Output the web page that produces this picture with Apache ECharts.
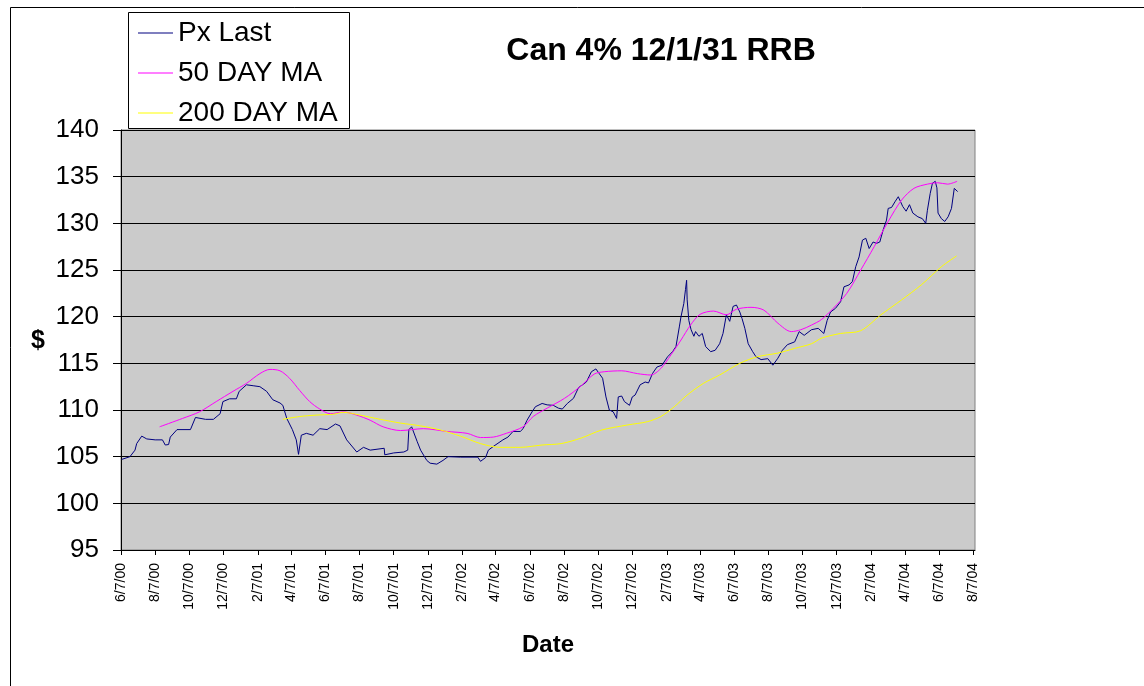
<!DOCTYPE html>
<html>
<head>
<meta charset="utf-8">
<script src="https://cdn.jsdelivr.net/npm/echarts@6/dist/echarts.min.js"></script>
<style>
  html, body { margin: 0; padding: 0; background: #fff; }
  #main { width: 1144px; height: 686px; }
</style>
</head>
<body>
<div id="main"></div>
<script>
// values
var pxDates = ['2000-06-08','2000-06-23','2000-07-02','2000-07-05','2000-07-14','2000-07-23','2000-08-07','2000-08-20','2000-08-25','2000-08-31',
  '2000-09-03','2000-09-15','2000-10-09','2000-10-18','2000-11-05','2000-11-19','2000-12-01','2000-12-06','2000-12-18','2000-12-30',
  '2001-01-04','2001-01-17','2001-01-29','2001-02-10','2001-02-22','2001-03-05','2001-03-18','2001-03-23','2001-03-30','2001-04-09',
  '2001-04-16','2001-04-20','2001-04-25','2001-05-04','2001-05-16','2001-05-28','2001-06-10','2001-06-25','2001-07-03','2001-07-15',
  '2001-08-02','2001-08-14','2001-08-26','2001-09-20','2001-09-21','2001-10-07','2001-10-25','2001-11-01','2001-11-03','2001-11-08',
  '2001-11-18','2001-11-24','2001-12-05','2001-12-11','2001-12-23','2002-01-03','2002-01-12','2002-02-03','2002-03-06','2002-03-11',
  '2002-03-20','2002-03-25','2002-04-03','2002-04-20','2002-04-29','2002-05-08','2002-05-21','2002-05-26','2002-06-02','2002-06-11',
  '2002-06-17','2002-06-29','2002-07-08','2002-07-19','2002-07-28','2002-08-04','2002-08-13','2002-08-24','2002-09-02','2002-09-16',
  '2002-09-25','2002-10-03','2002-10-09','2002-10-15','2002-10-21','2002-10-27','2002-11-03','2002-11-09','2002-11-12','2002-11-18',
  '2002-11-23','2002-12-02','2002-12-07','2002-12-12','2002-12-21','2002-12-30','2003-01-05','2003-01-12','2003-01-20','2003-01-29',
  '2003-02-08','2003-02-17','2003-02-23','2003-03-01','2003-03-04','2003-03-09','2003-03-12','2003-03-14','2003-03-15','2003-03-18',
  '2003-03-22','2003-03-27','2003-03-30','2003-04-05','2003-04-11','2003-04-17','2003-04-26','2003-05-04','2003-05-12','2003-05-18',
  '2003-05-24','2003-05-30','2003-06-05','2003-06-11','2003-06-17','2003-06-21','2003-06-26','2003-07-02','2003-07-10','2003-07-16',
  '2003-07-25','2003-08-06','2003-08-15','2003-08-24','2003-09-01','2003-09-10','2003-09-23','2003-10-01','2003-10-10','2003-10-23',
  '2003-11-04','2003-11-14','2003-11-20','2003-11-26','2003-12-05','2003-12-14','2003-12-20','2003-12-29','2004-01-04','2004-01-10',
  '2004-01-16','2004-01-22','2004-01-28','2004-02-03','2004-02-10','2004-02-16','2004-02-22','2004-02-28','2004-03-05','2004-03-08',
  '2004-03-14','2004-03-20','2004-03-26','2004-03-29','2004-04-03','2004-04-09','2004-04-15','2004-04-21','2004-04-30','2004-05-08',
  '2004-05-14','2004-05-17','2004-05-22','2004-05-26','2004-05-31','2004-06-03','2004-06-05','2004-06-11','2004-06-17','2004-06-23',
  '2004-06-29','2004-07-04','2004-07-07','2004-07-10'];
var pxValues = [104.7,105.0,105.7,106.4,107.2,106.9,106.8,106.8,106.25,106.3,
  107.1,107.9,107.9,109.2,109.0,109.0,109.6,110.9,111.2,111.2,
  112.0,112.7,112.6,112.5,112.0,111.1,110.75,110.5,109.1,107.9,
  106.8,105.25,107.3,107.5,107.3,108.0,107.9,108.5,108.3,106.8,
  105.5,106.0,105.7,105.9,105.2,105.4,105.5,105.7,107.9,108.2,
  106.6,105.7,104.6,104.3,104.2,104.6,105.0,104.95,104.95,104.5,
  104.9,105.7,106.1,106.8,107.1,107.7,107.7,108.0,108.9,109.8,
  110.35,110.7,110.55,110.5,110.2,110.1,110.7,111.25,112.4,113.0,
  114.1,114.4,113.9,113.4,111.4,110.0,109.8,109.1,111.4,111.5,
  110.9,110.5,111.4,111.6,112.7,113.0,112.9,113.9,114.6,114.8,
  115.7,116.25,116.8,118.9,120.0,121.4,122.9,123.9,121.8,119.6,
  118.6,117.9,118.4,117.9,118.2,116.8,116.25,116.4,117.1,118.2,
  120.2,119.5,121.1,121.25,120.5,119.8,118.75,117.1,116.25,115.7,
  115.4,115.5,114.8,115.55,116.4,117.0,117.3,118.4,118.0,118.6,
  118.75,118.2,119.6,120.5,120.9,121.6,123.2,123.4,123.75,125.35,
  126.4,128.2,128.4,127.3,128.0,127.85,128.0,129.3,130.35,131.6,
  131.7,132.3,132.85,133.0,131.8,131.3,132.0,131.1,130.7,130.5,
  130.0,131.4,133.2,134.3,134.5,133.8,131.1,130.5,130.2,130.7,
  131.6,133.75,133.9,133.4];

var ma50Dates = ['2000-08-15','2000-09-25','2000-10-25','2000-11-24','2000-12-24','2001-01-17','2001-02-10','2001-02-28','2001-03-18','2001-04-04',
  '2001-04-22','2001-05-10','2001-05-28','2001-06-16','2001-07-09','2001-08-02','2001-08-26','2001-09-18','2001-10-19','2001-11-29',
  '2002-01-10','2002-02-15','2002-03-11','2002-04-03','2002-04-26','2002-05-26','2002-06-13','2002-07-08','2002-08-08','2002-09-07',
  '2002-09-30','2002-10-18','2002-11-18','2002-12-16','2003-01-09','2003-01-27','2003-02-14','2003-03-04','2003-03-21','2003-04-07',
  '2003-05-01','2003-05-24','2003-06-11','2003-07-07','2003-07-30','2003-08-24','2003-09-17','2003-10-04','2003-10-23','2003-11-10',
  '2003-12-01','2003-12-25','2004-01-19','2004-02-12','2004-03-08','2004-04-01','2004-04-23','2004-05-17','2004-06-04','2004-06-22',
  '2004-07-09'];
var ma50Values = [108.2,109.1,109.8,110.9,112.0,112.85,113.9,114.35,114.2,113.4,
  112.1,110.9,110.1,109.6,109.8,109.45,108.9,108.2,107.8,108.0,
  107.7,107.5,107.05,107.1,107.5,108.2,109.3,110.2,111.25,112.6,
  113.85,114.1,114.2,113.9,113.75,114.45,115.9,117.5,119.1,120.25,
  120.6,120.2,120.8,121.0,120.7,119.3,118.4,118.6,119.1,119.7,
  120.9,122.5,125.0,127.5,130.2,132.5,133.75,134.2,134.35,134.2,
  134.5];

var ma200Dates = ['2001-03-23','2001-04-22','2001-05-21','2001-06-22','2001-07-09','2001-08-08','2001-09-13','2001-10-19','2001-11-24','2001-12-30',
  '2002-02-03','2002-03-11','2002-04-15','2002-05-21','2002-06-29','2002-08-02','2002-09-07','2002-10-13','2002-11-29','2003-01-03',
  '2003-01-27','2003-02-20','2003-03-15','2003-04-13','2003-05-12','2003-06-17','2003-07-18','2003-08-24','2003-09-23','2003-10-23',
  '2003-11-10','2003-12-14','2004-01-19','2004-02-24','2004-04-01','2004-05-06','2004-06-11','2004-07-08'];
var ma200Values = [109.0,109.3,109.45,109.55,109.75,109.45,109.0,108.6,108.3,107.85,
  107.2,106.4,106.0,106.0,106.25,106.4,107.0,107.85,108.4,108.75,
  109.3,110.35,111.6,112.85,113.75,115.0,115.7,116.1,116.6,117.1,
  117.7,118.2,118.5,120.2,121.8,123.4,125.35,126.5];

var tickLabels = ['6/7/00','8/7/00','10/7/00','12/7/00','2/7/01','4/7/01','6/7/01','8/7/01','10/7/01','12/7/01',
  '2/7/02','4/7/02','6/7/02','8/7/02','10/7/02','12/7/02','2/7/03','4/7/03','6/7/03','8/7/03',
  '10/7/03','12/7/03','2/7/04','4/7/04','6/7/04','8/7/04'];

var FONT = 'Liberation Sans, Arial, sans-serif';

function isoTs(s) {
  var p = s.split('-');
  return new Date(+p[0], +p[1] - 1, +p[2]).getTime();
}
function mdyTs(s) {
  var p = s.split('/');
  return new Date(2000 + +p[2], +p[0] - 1, +p[1]).getTime();
}
function pairs(dates, values) {
  return dates.map(function (d, i) { return [isoTs(d), values[i]]; });
}

var tickValues = tickLabels.map(mdyTs);

var chart = echarts.init(document.getElementById('main'), null, { renderer: 'canvas' });

chart.setOption({
  animation: false,
  backgroundColor: '#fff',
  textStyle: { fontFamily: FONT },
  grid: {
    left: 121, right: 169, top: 130, bottom: 136,
    show: true, backgroundColor: '#cbcbcb', borderColor: '#808080', borderWidth: 1
  },
  legend: {
    orient: 'vertical',
    left: 138, top: 18, padding: 0,
    itemGap: 10, itemWidth: 35, itemHeight: 1,
    icon: 'rect',
    textStyle: { fontFamily: FONT, fontSize: 28, color: '#000', lineHeight: 30 },
    data: ['Px Last', '50 DAY MA', '200 DAY MA']
  },
  xAxis: {
    // dates as timestamps on a plain value axis, ticks at the labelled dates
    type: 'value',
    min: isoTs('2000-06-07'),
    max: isoTs('2004-08-10'),
    axisLine: { lineStyle: { color: '#000', width: 1 } },
    axisTick: { show: true, length: 5, lineStyle: { color: '#000' }, customValues: tickValues },
    splitLine: { show: false },
    axisLabel: {
      customValues: tickValues,
      rotate: 90, margin: 13,
      fontFamily: FONT, fontSize: 14, color: '#000',
      formatter: function (v) {
        return tickLabels[tickValues.indexOf(v)] || '';
      }
    }
  },
  yAxis: {
    type: 'value',
    min: 95, max: 140, interval: 5,
    axisLine: { show: true, lineStyle: { color: '#000', width: 1 } },
    axisTick: { show: true, length: 8, lineStyle: { color: '#000' } },
    splitLine: { show: true, lineStyle: { color: '#000', width: 1 } },
    axisLabel: { fontFamily: FONT, fontSize: 26, color: '#000', margin: 22 }
  },
  graphic: [
    // outer chart frame (only top and left visible)
    { type: 'rect', shape: { x: 10.5, y: 7.5, width: 1300, height: 800 }, style: { fill: 'none', stroke: '#000', lineWidth: 1 }, z: -10 },
    // legend box
    { type: 'rect', shape: { x: 128.5, y: 12.5, width: 221, height: 116 }, style: { fill: '#fff', stroke: '#000', lineWidth: 1 }, z: -1 },
    { type: 'text', x: 661, y: 51, style: { text: 'Can 4% 12/1/31 RRB', fontFamily: FONT, fontSize: 32, fontWeight: 'bold', fill: '#000', align: 'center', verticalAlign: 'middle' } },
    { type: 'text', x: 38, y: 341, style: { text: '$', fontFamily: FONT, fontSize: 25, fontWeight: 'bold', fill: '#000', align: 'center', verticalAlign: 'middle' } },
    { type: 'text', x: 548, y: 645, style: { text: 'Date', fontFamily: FONT, fontSize: 24, fontWeight: 'bold', fill: '#000', align: 'center', verticalAlign: 'middle' } }
  ],
  series: [
    { name: 'Px Last', type: 'line', showSymbol: false, symbol: 'none', color: '#000080',
      lineStyle: { width: 1, color: '#000080' }, data: pairs(pxDates, pxValues) },
    { name: '50 DAY MA', type: 'line', showSymbol: false, symbol: 'none', color: '#ff00ff', smooth: 0.3,
      lineStyle: { width: 1, color: '#ff00ff' }, data: pairs(ma50Dates, ma50Values) },
    { name: '200 DAY MA', type: 'line', showSymbol: false, symbol: 'none', color: '#ffff00', smooth: 0.3,
      lineStyle: { width: 1, color: '#ffff00' }, data: pairs(ma200Dates, ma200Values) }
  ]
});
</script>
</body>
</html>
